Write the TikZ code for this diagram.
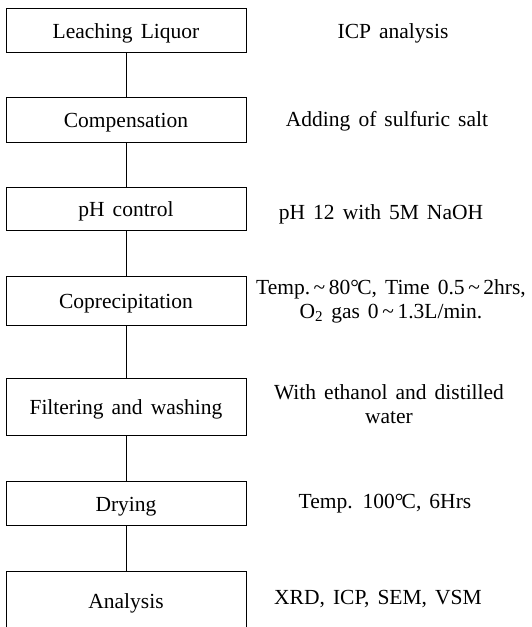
\documentclass[tikz,border=0pt]{standalone}
\usepackage{fontspec}
\setmainfont{Liberation Serif}[WordSpace=1.5]
\newcommand{\tl}{\,\textasciitilde\,}
\begin{document}
\begin{tikzpicture}[x=1pt,y=-1pt,
  stepbox/.style={draw=black, line width=0.8pt, minimum width=240pt, inner sep=0pt,
    text height=20pt, text depth=4pt, anchor=center},
  note/.style={align=center, inner sep=0pt, anchor=center},
  conn/.style={draw=black, line width=0.8pt}]
\useasboundingbox (0,0) rectangle (532,627);
\clip (0,0) rectangle (532,627);
\fontsize{21.5}{24}\selectfont
\node[stepbox, minimum height=44pt] (b1) at (126,30) {Leaching Liquor};
\node[stepbox, minimum height=45pt] (b2) at (126,119.5) {Compensation};
\node[stepbox, minimum height=43pt] (b3) at (126,208.5) {pH control};
\node[stepbox, minimum height=49pt] (b4) at (126,300.5) {Coprecipitation};
\node[stepbox, minimum height=57pt] (b5) at (126,406.5) {Filtering and washing};
\node[stepbox, minimum height=44pt] (b6) at (126,503) {Drying};
\node[stepbox, minimum height=58pt] (b7) at (126,600) {Analysis};
\draw[conn] (b1.south) -- (b2.north);
\draw[conn] (b2.south) -- (b3.north);
\draw[conn] (b3.south) -- (b4.north);
\draw[conn] (b4.south) -- (b5.north);
\draw[conn] (b5.south) -- (b6.north);
\draw[conn] (b6.south) -- (b7.north);
\node[note] (r1) at (393,33) {ICP analysis};
\node[note] (r2) at (387,121) {Adding of sulfuric salt};
\node[note] (r3) at (381,214) {pH 12 with 5M NaOH};
\node[note] (r4) at (391,301) {Temp.\tl 80°\kern-0.08em C, Time 0.5\tl 2hrs,\\O\textsubscript{2} gas 0\tl 1.3L/min.};
\node[note] (r5) at (389,404) {With ethanol and distilled\\water};
\node[note] (r6) at (385,504) {Temp. 100°\kern-0.08em C, 6Hrs};
\node[note] (r7) at (378,599) {XRD, ICP, SEM, VSM};
\end{tikzpicture}
\end{document}
